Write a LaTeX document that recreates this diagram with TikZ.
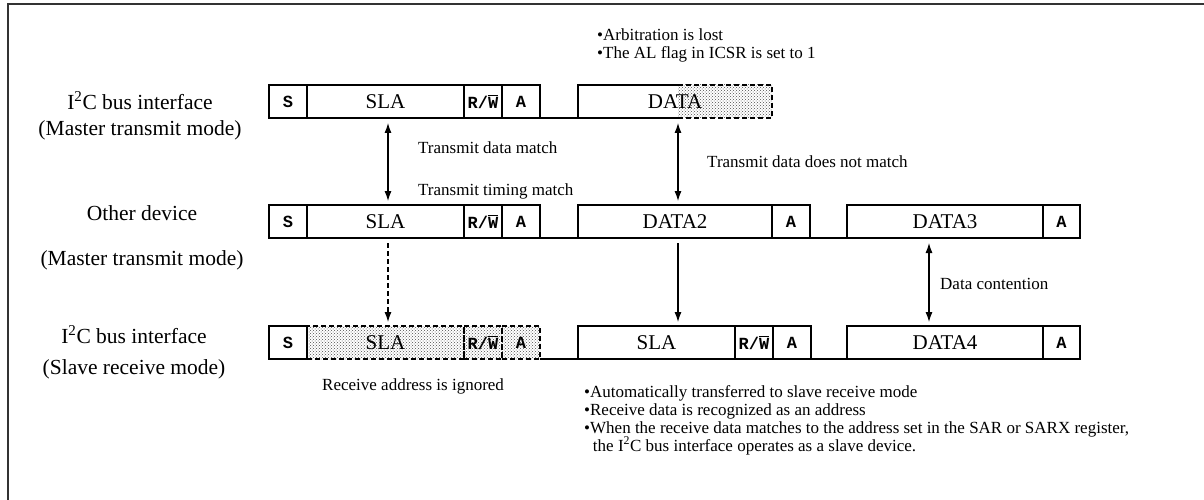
\documentclass[tikz,border=0pt]{standalone}
\usepackage{fontspec}
\setmainfont{Liberation Serif}
\setmonofont{Liberation Mono}
\usepackage{tikz}
\usetikzlibrary{arrows.meta,patterns,backgrounds,calc}
\newcommand{\rwlabel}{R/$\overline{\mbox{W}}$}

\begin{document}
\begin{tikzpicture}[x=1pt, y=-1pt,
    >={Latex[length=10pt,width=7pt]},
    cell/.style={draw, line width=1.1pt, minimum height=33pt, inner sep=0pt, outer sep=0pt,
      anchor=west, font=\fontsize{21}{24}\selectfont},
    bit/.style={cell, font=\fontsize{17}{20}\selectfont\ttfamily\bfseries},
    ghost/.style={dash pattern=on 5pt off 3pt},
    shade/.style={pattern=crosshatch dots, pattern color=black!70},
    lab/.style={align=center, font=\fontsize{21.5}{26}\selectfont},
    note/.style={align=left, inner sep=0pt, font=\fontsize{17}{18}\selectfont},
    link/.style={line width=1.1pt, shorten <=5pt, shorten >=4pt}]
    \useasboundingbox (0,0) rectangle (1204,500);
    \draw[line width=1.6pt, black!80] (8,500) -- (8,4) -- (1204,4);

    % row labels
    \node[lab] (ifmaster) at (140,116) {I\textsuperscript{2}C bus interface\\(Master transmit mode)};
    \node[lab] (other) at (142,237.5) {Other device\\[19pt](Master transmit mode)};
    \node[lab] (ifslave) at (134,352.5) {I\textsuperscript{2}C bus interface\\[5pt](Slave receive mode)};

    % I2C bus interface, master transmit
    \node[bit, minimum width=38pt] (s1) at (269,101.5) {S};
    \node[cell, minimum width=157pt] (sla1) at (s1.east) {SLA};
    \node[bit, minimum width=38pt] (rw1) at (sla1.east) {\rwlabel};
    \node[bit, minimum width=38pt] (a1) at (rw1.east) {A};
    \node[cell, draw=none, minimum width=194pt] (data1) at (578,101.5) {DATA};
    \draw[line width=1.1pt] (a1.south east) -- (data1.south west);
    \draw[line width=1.1pt] ([xshift=3pt]data1.north) -- (data1.north west)
      -- (data1.south west) -- ([xshift=3pt]data1.south);
    \draw[line width=1.1pt, ghost] ([xshift=3pt]data1.north) -- (data1.north east)
      -- (data1.south east) -- ([xshift=3pt]data1.south);

    % other device
    \node[bit, minimum width=38pt] (s2) at (269,221.5) {S};
    \node[cell, minimum width=157pt] (sla2) at (s2.east) {SLA};
    \node[bit, minimum width=38pt] (rw2) at (sla2.east) {\rwlabel};
    \node[bit, minimum width=38pt] (a2) at (rw2.east) {A};
    \node[cell, minimum width=194pt] (data2) at (578,221.5) {DATA2};
    \node[bit, minimum width=38pt] (a2b) at (data2.east) {A};
    \node[cell, minimum width=196pt] (data3) at (847,221.5) {DATA3};
    \node[bit, minimum width=37pt] (a2c) at (data3.east) {A};
    \draw[line width=1.1pt] (a2.south east) -- (data2.south west);
    \draw[line width=1.1pt] (a2b.south east) -- (data3.south west);

    % I2C bus interface, slave receive
    \node[bit, minimum width=38pt] (s3) at (269,342.5) {S};
    \node[cell, ghost, minimum width=157pt] (sla3a) at (s3.east) {SLA};
    \node[bit, ghost, minimum width=38pt] (rw3a) at (sla3a.east) {\rwlabel};
    \node[bit, ghost, minimum width=38pt] (a3a) at (rw3a.east) {A};
    \node[cell, minimum width=157pt] (sla3b) at (578,342.5) {SLA};
    \node[bit, minimum width=38pt] (rw3b) at (sla3b.east) {\rwlabel};
    \node[bit, minimum width=38pt] (a3b) at (rw3b.east) {A};
    \node[cell, minimum width=196pt] (data4) at (847,342.5) {DATA4};
    \node[bit, minimum width=37pt, text depth=-3pt] (a3c) at (data4.east) {A};
    \draw[line width=1.1pt] (a3a.south east) -- (sla3b.south west);
    \draw[line width=1.1pt] (a3b.south east) -- (data4.south west);

    \begin{scope}[on background layer]
      \fill[shade] ([xshift=3pt]data1.north) rectangle (data1.south east);
      \fill[shade] (sla3a.north west) rectangle (a3a.south east);
    \end{scope}

    % arrows
    \draw[link, <->] ([xshift=2.5pt]sla1.south) -- ([xshift=2.5pt]sla2.north);
    \draw[link, <->] ([xshift=3pt]data1.south) -- ([xshift=3pt]data2.north);
    \draw[link, ghost, ->] ([xshift=2.5pt]sla2.south) -- ([xshift=2.5pt]sla3a.north);
    \draw[link, ->] ($(data2.south)+(3,0)$) -- ($(data2.south |- sla3b.north)+(3,0)$);
    \draw[link, <->] ([xshift=-16pt]data3.south) -- ([xshift=-16pt]data4.north);

    % notes
    \node[note, anchor=west] (match) at (418,148) {Transmit data match};
    \node[note, anchor=west] (timing) at (418,191) {Transmit timing match};
    \node[note, anchor=west] (nomatch) at (707,162) {Transmit data does not match};
    \node[note, anchor=west] (contend) at (940,284) {Data contention};
    \node[note, anchor=west] (ignored) at (322,386) {Receive address is ignored};
    \node[note, anchor=north west] (arblost) at (597,29)
      {\textbullet Arbitration is lost\\\textbullet The AL flag in ICSR is set to 1};
    \node[note, anchor=north west] (autoslave) at (584,385)
      {\textbullet Automatically transferred to slave receive mode\\
       \textbullet Receive data is recognized as an address\\
       \textbullet When the receive data matches to the address set in the SAR or SARX register,\\
       \phantom{\textbullet}\,the I\textsuperscript{2}C bus interface operates as a slave device.};
  \end{tikzpicture}
\end{document}
